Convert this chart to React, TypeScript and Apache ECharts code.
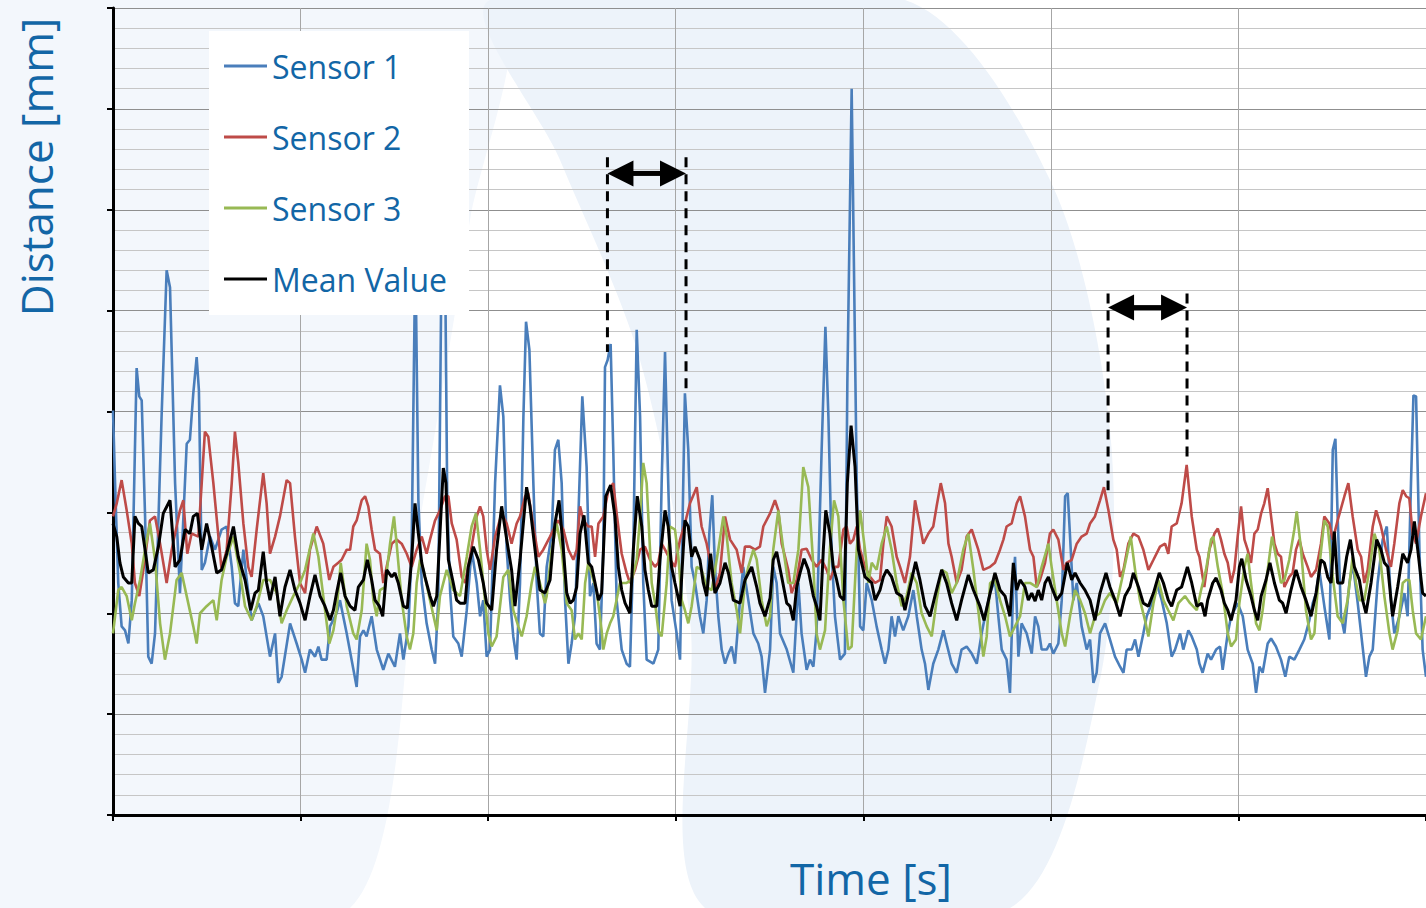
import React, { useEffect, useRef } from "react";
import * as echarts from "echarts";

// Time [s], Distance [mm] pairs
const sensor1: [number, number][] = [
  [0,4.01],[0.011,3.29],[0.028,2.30],[0.046,1.87],[0.064,1.83],[0.082,1.70],[0.100,2.13],[0.126,4.43],[0.140,4.15],[0.153,4.11],[0.171,2.96],[0.188,1.57],[0.206,1.50],[0.224,1.80],[0.259,3.95],[0.286,5.40],[0.304,5.23],[0.331,3.29],[0.357,2.20],[0.393,3.68],[0.410,3.72],[0.428,4.18],[0.446,4.54],[0.458,4.21],[0.473,2.43],[0.490,2.50],[0.517,2.76],[0.544,2.63],[0.579,2.83],[0.606,2.86],[0.633,2.46],[0.650,2.10],[0.668,2.07],[0.695,2.63],[0.713,2.33],[0.739,1.93],[0.775,2.10],[0.801,1.97],[0.837,1.57],[0.864,1.80],[0.881,1.31],[0.899,1.37],[0.944,1.90],[0.979,1.70],[1.006,1.54],[1.024,1.41],[1.050,1.64],[1.077,1.57],[1.095,1.67],[1.112,1.54],[1.139,1.54],[1.157,1.87],[1.192,2.00],[1.210,2.13],[1.246,1.80],[1.272,1.54],[1.299,1.27],[1.317,1.77],[1.335,1.83],[1.352,1.77],[1.379,1.97],[1.406,1.64],[1.441,1.44],[1.468,1.60],[1.503,1.47],[1.530,1.80],[1.548,1.54],[1.575,1.87],[1.592,2.63],[1.612,5.60],[1.628,3.12],[1.646,2.30],[1.672,1.90],[1.699,1.64],[1.717,1.50],[1.734,2.13],[1.752,5.60],[1.770,5.60],[1.782,3.12],[1.797,2.23],[1.814,1.77],[1.841,1.70],[1.859,1.57],[1.886,2.03],[1.912,2.63],[1.939,2.30],[1.957,1.97],[1.974,2.13],[1.992,1.57],[2.010,1.64],[2.037,3.29],[2.063,4.26],[2.081,3.95],[2.099,2.63],[2.117,2.13],[2.134,1.77],[2.152,1.54],[2.170,2.30],[2.188,3.95],[2.202,4.89],[2.220,4.61],[2.241,3.29],[2.259,2.30],[2.276,1.80],[2.294,1.77],[2.312,2.46],[2.339,2.79],[2.356,3.62],[2.374,3.72],[2.392,3.29],[2.410,2.13],[2.428,1.50],[2.445,1.70],[2.463,1.97],[2.481,2.96],[2.502,4.15],[2.525,3.45],[2.543,2.17],[2.561,2.30],[2.578,1.70],[2.596,1.64],[2.614,2.63],[2.623,4.44],[2.637,4.51],[2.653,4.67],[2.667,3.62],[2.685,2.13],[2.712,1.64],[2.738,1.50],[2.756,1.47],[2.774,2.63],[2.792,4.81],[2.810,3.95],[2.827,2.30],[2.845,1.54],[2.881,1.50],[2.907,1.64],[2.925,3.29],[2.943,4.59],[2.960,3.29],[2.978,2.13],[3.005,1.80],[3.023,1.54],[3.037,2.96],[3.049,4.18],[3.067,3.62],[3.085,2.46],[3.103,2.30],[3.129,1.97],[3.147,1.80],[3.165,2.13],[3.179,2.79],[3.195,3.17],[3.209,2.46],[3.227,1.97],[3.245,1.64],[3.263,1.50],[3.281,1.60],[3.298,1.67],[3.316,1.50],[3.343,2.13],[3.360,2.46],[3.387,2.13],[3.414,1.80],[3.440,1.70],[3.458,1.57],[3.476,1.21],[3.503,1.64],[3.520,2.46],[3.538,2.30],[3.556,1.80],[3.592,1.64],[3.627,1.41],[3.654,2.30],[3.671,1.80],[3.698,1.44],[3.716,1.54],[3.734,1.47],[3.751,1.83],[3.778,3.62],[3.798,4.84],[3.814,3.95],[3.831,2.63],[3.849,1.97],[3.876,1.54],[3.902,1.60],[3.915,4.28],[3.938,7.20],[3.965,3.30],[3.983,1.87],[4.000,1.83],[4.018,2.30],[4.045,2.13],[4.071,1.87],[4.098,1.64],[4.116,1.50],[4.134,1.64],[4.151,1.97],[4.169,1.77],[4.187,1.97],[4.213,1.83],[4.240,1.97],[4.267,2.23],[4.285,1.97],[4.311,1.64],[4.329,1.50],[4.347,1.24],[4.373,1.50],[4.400,1.64],[4.427,1.83],[4.444,1.70],[4.471,1.50],[4.498,1.41],[4.524,1.64],[4.551,1.67],[4.578,1.60],[4.605,1.50],[4.631,1.80],[4.649,1.97],[4.676,2.20],[4.702,2.33],[4.720,1.97],[4.738,1.64],[4.764,1.54],[4.782,1.21],[4.800,2.30],[4.809,2.56],[4.827,1.57],[4.844,1.90],[4.871,1.80],[4.898,1.60],[4.916,1.97],[4.933,1.87],[4.951,1.64],[4.978,1.64],[4.995,1.70],[5.013,1.60],[5.040,1.70],[5.058,2.13],[5.076,3.16],[5.090,3.19],[5.106,2.63],[5.120,2.13],[5.138,2.30],[5.164,1.87],[5.191,1.64],[5.209,1.74],[5.227,1.31],[5.244,1.41],[5.262,1.80],[5.289,1.90],[5.315,1.74],[5.342,1.57],[5.369,1.47],[5.387,1.41],[5.404,1.64],[5.431,1.64],[5.449,1.74],[5.467,1.57],[5.493,1.80],[5.511,1.97],[5.538,2.10],[5.564,2.30],[5.591,2.13],[5.618,1.90],[5.644,1.57],[5.662,1.64],[5.689,1.80],[5.706,1.64],[5.733,1.83],[5.751,1.77],[5.778,1.64],[5.792,1.50],[5.809,1.41],[5.836,1.60],[5.854,1.54],[5.881,1.64],[5.902,1.67],[5.916,1.44],[5.943,1.80],[5.961,1.97],[5.978,2.03],[5.996,2.10],[6.023,1.97],[6.049,1.64],[6.076,1.50],[6.094,1.21],[6.112,1.47],[6.129,1.41],[6.156,1.70],[6.174,1.75],[6.200,1.67],[6.227,1.54],[6.250,1.37],[6.271,1.57],[6.298,1.54],[6.325,1.64],[6.351,1.74],[6.378,1.93],[6.396,2.10],[6.414,2.20],[6.431,2.43],[6.458,2.07],[6.485,1.74],[6.503,3.62],[6.517,3.73],[6.529,2.96],[6.547,1.97],[6.565,1.80],[6.592,2.30],[6.609,2.50],[6.636,2.10],[6.654,1.80],[6.680,1.37],[6.698,1.57],[6.716,1.64],[6.742,2.30],[6.769,2.73],[6.791,2.86],[6.813,2.13],[6.831,1.80],[6.858,1.97],[6.885,2.20],[6.902,1.97],[6.920,3.29],[6.933,4.16],[6.947,4.15],[6.965,2.63],[6.982,1.64],[7.000,1.37]
];

const sensor2: [number, number][] = [
  [0,2.96],[0.020,3.09],[0.046,3.32],[0.073,3.02],[0.100,2.69],[0.117,2.30],[0.140,2.17],[0.162,2.43],[0.197,2.92],[0.224,2.96],[0.251,2.69],[0.286,2.30],[0.313,2.63],[0.357,3.02],[0.375,3.12],[0.396,2.59],[0.419,2.79],[0.455,2.76],[0.473,3.29],[0.490,3.80],[0.508,3.75],[0.535,3.29],[0.562,2.76],[0.579,2.43],[0.606,2.63],[0.633,3.29],[0.650,3.80],[0.668,3.49],[0.695,2.89],[0.721,2.46],[0.739,2.36],[0.766,2.83],[0.801,3.39],[0.819,3.09],[0.837,2.59],[0.864,2.76],[0.890,2.96],[0.926,3.32],[0.944,3.29],[0.970,2.76],[0.997,2.30],[1.024,2.20],[1.050,2.63],[1.086,2.86],[1.121,2.69],[1.153,2.33],[1.175,2.46],[1.201,2.50],[1.219,2.53],[1.246,2.63],[1.264,2.63],[1.281,2.86],[1.299,2.92],[1.326,3.12],[1.344,3.16],[1.361,3.06],[1.379,2.83],[1.397,2.63],[1.423,2.59],[1.441,2.30],[1.459,2.46],[1.486,2.69],[1.512,2.73],[1.539,2.69],[1.566,2.59],[1.592,2.46],[1.619,2.63],[1.646,2.76],[1.672,2.59],[1.690,2.73],[1.717,2.92],[1.743,3.02],[1.770,3.16],[1.788,3.16],[1.806,2.89],[1.832,2.73],[1.859,2.36],[1.877,2.30],[1.903,2.56],[1.939,2.96],[1.957,3.06],[1.974,2.96],[1.992,2.63],[2.010,2.43],[2.037,2.76],[2.072,2.99],[2.099,2.89],[2.125,2.69],[2.152,2.89],[2.170,2.96],[2.197,3.16],[2.214,3.19],[2.241,2.86],[2.268,2.56],[2.294,2.63],[2.330,2.76],[2.348,2.83],[2.374,2.92],[2.401,2.83],[2.428,2.63],[2.454,2.53],[2.472,2.63],[2.490,3.06],[2.508,2.92],[2.534,2.86],[2.552,2.86],[2.570,2.56],[2.588,2.89],[2.614,2.96],[2.641,3.22],[2.667,3.29],[2.685,2.99],[2.712,2.59],[2.738,2.40],[2.756,2.30],[2.783,2.43],[2.810,2.63],[2.836,2.66],[2.863,2.53],[2.890,2.46],[2.907,2.50],[2.925,2.69],[2.943,2.63],[2.970,2.53],[2.996,2.46],[3.023,2.73],[3.049,2.89],[3.076,3.09],[3.112,3.25],[3.138,2.86],[3.165,2.69],[3.192,2.43],[3.209,2.23],[3.236,2.40],[3.263,2.96],[3.290,2.73],[3.325,2.63],[3.352,2.40],[3.369,2.66],[3.396,2.66],[3.423,2.63],[3.449,2.66],[3.467,2.86],[3.503,2.99],[3.529,3.12],[3.547,3.02],[3.565,2.69],[3.583,2.56],[3.600,2.43],[3.618,2.20],[3.645,2.33],[3.671,2.63],[3.698,2.64],[3.725,2.53],[3.751,2.46],[3.778,2.53],[3.805,2.43],[3.822,2.33],[3.849,2.46],[3.867,2.46],[3.894,2.83],[3.911,2.86],[3.929,2.69],[3.947,2.73],[3.965,2.86],[3.983,2.63],[4.009,2.46],[4.036,2.36],[4.063,2.30],[4.089,2.33],[4.107,2.69],[4.125,2.96],[4.151,2.86],[4.178,2.56],[4.196,2.46],[4.222,2.30],[4.249,2.56],[4.276,3.12],[4.293,2.96],[4.320,2.69],[4.347,2.79],[4.373,2.86],[4.391,3.06],[4.413,3.29],[4.436,3.09],[4.454,2.69],[4.471,2.56],[4.498,2.30],[4.524,2.43],[4.551,2.76],[4.578,2.83],[4.613,2.63],[4.640,2.43],[4.676,2.46],[4.702,2.50],[4.729,2.63],[4.747,2.73],[4.764,2.86],[4.791,2.89],[4.818,3.09],[4.836,3.16],[4.862,2.96],[4.889,2.63],[4.907,2.56],[4.925,2.26],[4.942,2.33],[4.969,2.50],[4.995,2.79],[5.013,2.83],[5.040,2.73],[5.067,2.43],[5.084,2.50],[5.111,2.53],[5.138,2.69],[5.164,2.76],[5.191,2.79],[5.209,2.89],[5.235,2.96],[5.262,3.12],[5.283,3.25],[5.307,3.02],[5.333,2.73],[5.351,2.63],[5.369,2.36],[5.387,2.43],[5.413,2.69],[5.440,2.79],[5.467,2.76],[5.493,2.63],[5.520,2.43],[5.547,2.53],[5.582,2.66],[5.609,2.69],[5.626,2.59],[5.644,2.86],[5.671,2.89],[5.697,3.09],[5.724,3.47],[5.751,2.96],[5.778,2.63],[5.792,2.56],[5.818,2.26],[5.845,2.63],[5.872,2.79],[5.890,2.84],[5.907,2.73],[5.925,2.59],[5.943,2.50],[5.961,2.30],[5.978,2.43],[5.996,2.76],[6.014,3.06],[6.032,2.73],[6.049,2.63],[6.067,2.50],[6.085,2.79],[6.103,2.83],[6.121,2.99],[6.138,3.09],[6.156,3.24],[6.174,2.96],[6.192,2.69],[6.209,2.59],[6.227,2.56],[6.245,2.26],[6.271,2.36],[6.289,2.40],[6.307,2.63],[6.325,2.73],[6.343,2.59],[6.369,2.46],[6.387,2.36],[6.414,2.43],[6.440,2.69],[6.458,2.96],[6.485,2.89],[6.503,2.73],[6.529,2.92],[6.565,3.16],[6.586,3.29],[6.609,2.96],[6.636,2.63],[6.654,2.56],[6.671,2.30],[6.689,2.43],[6.716,2.86],[6.734,3.02],[6.760,2.86],[6.787,2.63],[6.813,2.46],[6.831,2.69],[6.858,3.09],[6.876,3.22],[6.894,3.16],[6.911,3.14],[6.929,2.79],[6.947,2.69],[6.973,2.96],[7.000,3.19]
];

const sensor3: [number, number][] = [
  [0,1.80],[0.028,2.23],[0.046,2.26],[0.073,2.17],[0.100,1.93],[0.117,2.10],[0.144,2.33],[0.171,2.63],[0.197,2.89],[0.224,2.53],[0.251,1.90],[0.277,1.54],[0.304,1.80],[0.339,2.33],[0.366,2.40],[0.393,2.17],[0.428,1.87],[0.446,1.70],[0.464,2.00],[0.499,2.07],[0.535,2.13],[0.553,1.93],[0.579,2.33],[0.606,2.56],[0.642,2.76],[0.677,2.40],[0.704,2.07],[0.739,1.93],[0.766,2.07],[0.801,2.33],[0.837,2.33],[0.873,2.20],[0.899,1.90],[0.926,2.03],[0.961,2.17],[0.997,2.30],[1.024,2.43],[1.068,2.79],[1.095,2.56],[1.121,2.17],[1.153,1.70],[1.175,1.83],[1.192,2.03],[1.214,2.50],[1.246,2.07],[1.281,1.80],[1.299,1.74],[1.326,2.03],[1.352,2.69],[1.370,2.53],[1.388,2.13],[1.406,1.97],[1.423,2.23],[1.450,2.26],[1.477,2.69],[1.498,2.96],[1.512,2.69],[1.539,2.13],[1.566,1.77],[1.583,1.64],[1.601,1.80],[1.619,2.30],[1.637,2.53],[1.655,2.43],[1.690,2.13],[1.726,1.83],[1.743,2.17],[1.779,2.43],[1.814,2.23],[1.850,2.17],[1.886,2.56],[1.912,2.86],[1.935,2.99],[1.957,2.63],[1.983,2.13],[2.001,1.80],[2.019,1.67],[2.045,1.77],[2.081,2.36],[2.108,2.43],[2.134,2.03],[2.161,1.87],[2.179,1.77],[2.205,1.97],[2.232,2.30],[2.250,2.46],[2.276,2.30],[2.303,2.10],[2.312,2.17],[2.339,2.63],[2.365,2.89],[2.392,2.63],[2.419,2.10],[2.445,2.03],[2.463,1.74],[2.481,1.80],[2.499,1.74],[2.517,2.30],[2.534,2.50],[2.561,2.33],[2.578,2.23],[2.605,1.83],[2.614,1.64],[2.632,1.80],[2.650,1.90],[2.667,1.97],[2.703,2.30],[2.738,2.30],[2.765,2.33],[2.792,2.53],[2.810,2.96],[2.827,3.49],[2.845,3.29],[2.872,2.30],[2.890,2.10],[2.907,1.83],[2.925,1.77],[2.952,2.30],[2.970,2.86],[2.996,2.83],[3.014,2.56],[3.032,2.13],[3.049,2.03],[3.067,1.90],[3.085,2.07],[3.112,2.46],[3.138,2.43],[3.165,2.26],[3.192,2.23],[3.227,2.63],[3.254,2.96],[3.272,2.76],[3.298,2.30],[3.325,2.03],[3.343,1.80],[3.369,2.30],[3.387,2.46],[3.414,2.63],[3.432,2.53],[3.458,2.13],[3.485,1.87],[3.503,1.97],[3.520,2.63],[3.547,3.02],[3.574,2.63],[3.600,2.30],[3.627,2.30],[3.654,2.63],[3.680,3.45],[3.707,3.25],[3.734,2.46],[3.751,1.80],[3.769,1.64],[3.796,1.83],[3.822,2.63],[3.844,3.12],[3.867,2.96],[3.894,2.13],[3.920,1.64],[3.938,1.67],[3.965,2.63],[3.983,3.02],[4.009,2.63],[4.027,2.30],[4.045,2.50],[4.071,2.43],[4.098,2.69],[4.125,2.86],[4.151,2.63],[4.178,2.30],[4.205,2.07],[4.231,2.17],[4.258,2.40],[4.285,2.30],[4.311,2.00],[4.338,1.87],[4.365,1.77],[4.391,2.13],[4.418,2.43],[4.444,2.40],[4.471,2.20],[4.498,2.30],[4.533,2.63],[4.560,2.79],[4.587,2.43],[4.613,2.03],[4.640,1.57],[4.658,1.77],[4.676,2.30],[4.702,2.33],[4.729,2.13],[4.756,1.97],[4.782,1.77],[4.809,1.87],[4.836,1.97],[4.862,2.30],[4.889,2.30],[4.925,2.26],[4.951,2.46],[4.987,2.69],[5.004,2.46],[5.031,2.13],[5.058,1.80],[5.076,1.67],[5.102,1.97],[5.129,2.23],[5.156,2.13],[5.182,2.00],[5.209,1.80],[5.235,1.97],[5.262,2.00],[5.289,2.13],[5.315,2.20],[5.351,2.10],[5.378,2.33],[5.404,2.56],[5.426,2.76],[5.449,2.43],[5.475,2.13],[5.502,1.93],[5.520,1.77],[5.547,2.10],[5.573,2.33],[5.600,2.13],[5.626,2.03],[5.653,1.93],[5.680,2.10],[5.715,2.17],[5.742,2.10],[5.778,2.03],[5.801,2.23],[5.827,2.43],[5.854,2.73],[5.866,2.76],[5.890,2.46],[5.916,2.20],[5.943,1.80],[5.961,1.67],[5.987,1.74],[6.005,2.10],[6.032,2.46],[6.049,2.59],[6.067,2.30],[6.094,1.90],[6.112,1.83],[6.129,2.03],[6.156,2.43],[6.179,2.76],[6.200,2.56],[6.227,2.30],[6.245,2.33],[6.271,2.53],[6.298,2.83],[6.311,3.01],[6.334,2.63],[6.360,2.03],[6.387,1.74],[6.405,1.80],[6.431,2.46],[6.458,2.92],[6.476,2.86],[6.503,2.36],[6.529,1.97],[6.556,1.90],[6.582,2.13],[6.609,2.56],[6.627,2.30],[6.645,2.13],[6.671,2.13],[6.698,2.43],[6.725,2.79],[6.751,2.63],[6.778,2.17],[6.805,1.80],[6.822,1.64],[6.849,1.83],[6.876,2.30],[6.894,2.33],[6.911,2.33],[6.929,2.03],[6.947,1.80],[6.973,1.74],[7.000,1.97]
];

const meanValue: [number, number][] = [
  [0,2.89],[0.020,2.76],[0.037,2.50],[0.055,2.36],[0.082,2.30],[0.100,2.30],[0.117,2.96],[0.135,2.89],[0.153,2.86],[0.171,2.63],[0.188,2.40],[0.215,2.43],[0.242,2.66],[0.268,2.99],[0.304,3.12],[0.331,2.46],[0.357,2.53],[0.384,2.83],[0.410,2.79],[0.428,2.96],[0.450,2.99],[0.473,2.63],[0.499,2.89],[0.526,2.66],[0.553,2.40],[0.579,2.43],[0.606,2.59],[0.642,2.86],[0.668,2.56],[0.704,2.33],[0.734,2.03],[0.757,2.20],[0.775,2.23],[0.801,2.61],[0.819,2.30],[0.837,2.13],[0.864,2.36],[0.890,1.97],[0.917,2.26],[0.944,2.43],[0.970,2.23],[0.997,2.10],[1.024,1.93],[1.050,2.17],[1.077,2.38],[1.104,2.17],[1.130,2.07],[1.157,1.93],[1.175,2.03],[1.192,2.20],[1.214,2.40],[1.237,2.17],[1.264,2.07],[1.290,2.03],[1.308,2.26],[1.335,2.33],[1.356,2.53],[1.379,2.33],[1.397,2.13],[1.420,2.07],[1.438,1.97],[1.459,2.43],[1.486,2.36],[1.503,2.40],[1.521,2.30],[1.548,2.07],[1.569,2.05],[1.592,2.53],[1.610,3.09],[1.628,2.79],[1.646,2.50],[1.663,2.36],[1.690,2.17],[1.708,2.07],[1.726,2.17],[1.743,2.79],[1.761,3.44],[1.775,3.29],[1.788,2.53],[1.814,2.30],[1.832,2.13],[1.850,2.10],[1.877,2.10],[1.894,2.46],[1.921,2.66],[1.948,2.53],[1.974,2.30],[1.992,2.10],[2.019,2.03],[2.045,2.63],[2.072,3.06],[2.099,2.73],[2.125,2.43],[2.143,2.07],[2.170,2.53],[2.205,3.25],[2.223,3.06],[2.250,2.63],[2.276,2.23],[2.303,2.20],[2.330,2.33],[2.356,2.89],[2.378,3.12],[2.401,2.63],[2.419,2.20],[2.437,2.10],[2.454,2.13],[2.472,2.26],[2.490,2.79],[2.511,2.97],[2.534,2.50],[2.552,2.46],[2.570,2.30],[2.588,2.13],[2.605,2.20],[2.627,3.16],[2.653,3.27],[2.676,2.96],[2.694,2.46],[2.712,2.23],[2.730,2.10],[2.756,2.00],[2.774,2.63],[2.795,3.16],[2.819,2.86],[2.836,2.43],[2.854,2.23],[2.872,2.07],[2.899,2.07],[2.916,2.53],[2.943,3.02],[2.960,2.86],[2.978,2.46],[2.996,2.30],[3.023,2.07],[3.049,2.92],[3.067,2.86],[3.085,2.56],[3.103,2.66],[3.129,2.53],[3.147,2.30],[3.165,2.17],[3.186,2.59],[3.209,2.20],[3.236,2.30],[3.263,2.50],[3.281,2.40],[3.307,2.13],[3.343,2.10],[3.369,2.33],[3.405,2.46],[3.432,2.26],[3.449,2.10],[3.476,1.97],[3.503,2.15],[3.520,2.53],[3.538,2.61],[3.565,2.36],[3.592,2.10],[3.609,2.07],[3.627,1.93],[3.645,2.26],[3.663,2.40],[3.684,2.54],[3.707,2.43],[3.734,2.17],[3.751,2.07],[3.769,1.93],[3.787,2.63],[3.800,3.02],[3.822,2.79],[3.840,2.46],[3.858,2.33],[3.876,2.17],[3.897,2.13],[3.915,3.29],[3.935,3.86],[3.956,3.45],[3.974,2.63],[3.991,2.50],[4.009,2.36],[4.027,2.33],[4.045,2.30],[4.063,2.13],[4.089,2.23],[4.107,2.36],[4.125,2.43],[4.151,2.36],[4.178,2.20],[4.205,2.17],[4.222,2.03],[4.249,2.26],[4.279,2.51],[4.302,2.33],[4.329,2.07],[4.356,1.97],[4.382,2.17],[4.418,2.43],[4.444,2.30],[4.471,2.10],[4.498,1.93],[4.524,2.13],[4.560,2.38],[4.587,2.23],[4.622,2.07],[4.644,1.93],[4.676,2.20],[4.702,2.40],[4.729,2.23],[4.756,2.17],[4.782,1.97],[4.800,2.50],[4.818,2.23],[4.836,2.33],[4.862,2.26],[4.880,2.13],[4.898,2.20],[4.916,2.12],[4.933,2.23],[4.951,2.13],[4.969,2.30],[4.987,2.36],[5.004,2.26],[5.031,2.13],[5.058,2.20],[5.088,2.50],[5.111,2.33],[5.129,2.40],[5.156,2.30],[5.182,2.23],[5.209,2.13],[5.235,1.93],[5.262,2.20],[5.294,2.40],[5.315,2.26],[5.342,2.13],[5.369,1.97],[5.395,2.17],[5.422,2.26],[5.440,2.40],[5.467,2.26],[5.493,2.10],[5.520,2.07],[5.547,2.20],[5.578,2.40],[5.600,2.30],[5.626,2.13],[5.644,2.07],[5.671,2.23],[5.697,2.26],[5.728,2.46],[5.751,2.30],[5.778,2.07],[5.804,2.10],[5.822,1.97],[5.836,2.13],[5.863,2.30],[5.881,2.35],[5.907,2.23],[5.925,2.10],[5.943,2.03],[5.961,1.93],[5.987,2.13],[6.005,2.46],[6.018,2.54],[6.041,2.33],[6.067,2.17],[6.085,2.03],[6.103,1.93],[6.121,2.17],[6.147,2.33],[6.168,2.50],[6.192,2.30],[6.218,2.13],[6.236,2.10],[6.254,2.00],[6.280,2.23],[6.307,2.43],[6.334,2.26],[6.360,2.13],[6.387,1.97],[6.414,2.20],[6.440,2.53],[6.458,2.50],[6.476,2.36],[6.494,2.30],[6.511,2.81],[6.529,2.30],[6.556,2.30],[6.577,2.56],[6.597,2.73],[6.618,2.46],[6.645,2.33],[6.662,2.13],[6.680,2.00],[6.707,2.30],[6.737,2.73],[6.760,2.63],[6.778,2.50],[6.796,2.46],[6.822,1.97],[6.849,2.26],[6.876,2.59],[6.902,2.50],[6.920,2.63],[6.938,2.91],[6.956,2.63],[6.982,2.20],[7.000,2.17]
];

const seriesNames = ["Sensor 1", "Sensor 2", "Sensor 3", "Mean Value"];
const seriesColors = ["#4A7EBB", "#BE4B48", "#98B954", "#000000"];

// period annotations (time span, arrow level and dashed-line extents)
const spanStart = [2.636, 5.305];
const spanEnd = [3.055, 5.726];
const spanTop = [6.52, 5.17];
const arrowLevel = [6.36, 5.03];
const startBottom = [4.59, 3.22];
const endBottom = [4.16, 3.5];

const TEXT_BLUE = "#1266A6";
const FONT = "'Open Sans', 'Noto Sans', sans-serif";

export default function App() {
  const ref = useRef<HTMLDivElement>(null);

  useEffect(() => {
    if (!ref.current) return;
    const chart = echarts.init(ref.current, undefined, { renderer: "svg" });

    const annotationData = spanStart.map((s, i) => [
      s, spanEnd[i], spanTop[i], arrowLevel[i], startBottom[i], endBottom[i],
    ]);

    const lineSeries = [sensor1, sensor2, sensor3, meanValue].map((d, i) => ({
      name: seriesNames[i],
      type: "line",
      data: d,
      showSymbol: false,
      symbol: "none",
      color: seriesColors[i],
      lineStyle: { color: seriesColors[i], width: i === 3 ? 3 : 2.6 },
      z: 2 + i * 0.1,
      silent: true,
    }));

    chart.setOption({
      animation: false,
      backgroundColor: "#ffffff",
      grid: { left: 113, right: 0, top: 8, bottom: 93, containLabel: false },
      xAxis: {
        type: "value",
        min: 0,
        max: 7,
        interval: 1,
        axisLine: { show: true, onZero: false, lineStyle: { color: "#000", width: 3 } },
        axisTick: { show: true, inside: false, length: 6, lineStyle: { color: "#000", width: 2 } },
        axisLabel: { show: false },
        splitLine: { show: true, lineStyle: { color: "#a6a6a6", width: 1 } },
      },
      yAxis: {
        type: "value",
        min: 0,
        max: 8,
        interval: 1,
        axisLine: { show: true, onZero: false, lineStyle: { color: "#000", width: 3 } },
        axisTick: { show: true, inside: false, length: 6, lineStyle: { color: "#000", width: 2 } },
        axisLabel: { show: false },
        splitLine: { show: true, lineStyle: { color: "#8f8f8f", width: 1 } },
        minorTick: { show: false, splitNumber: 5 },
        minorSplitLine: { show: true, lineStyle: { color: "#c6c6c6", width: 1 } },
      },
      legend: {
        show: true,
        orient: "vertical",
        left: 224,
        top: 50,
        padding: 0,
        itemWidth: 43,
        itemHeight: 3,
        itemGap: 39,
        icon: "rect",
        selectedMode: false,
        z: 60,
        data: seriesNames,
        textStyle: { fontSize: 32, fontFamily: FONT, color: TEXT_BLUE },
      },
      graphic: [
        {
          type: "polygon", z: -100, silent: true,
          shape: { points: [[0, 0], [500, 0], [470, 220], [420, 520], [350, 908], [0, 908]], smooth: 0.25 },
          style: { fill: "#f3f7fc" },
        },
        {
          type: "polygon", z: -100, silent: true,
          shape: {
            points: [[490, 0], [905, 0], [1050, 180], [1110, 430], [1100, 680], [1010, 908], [705, 908], [690, 620], [640, 360], [560, 160]],
            smooth: 0.3,
          },
          style: { fill: "#edf3fa" },
        },
        { type: "rect", z: 50, silent: true, shape: { x: 209, y: 31, width: 260, height: 284 }, style: { fill: "#ffffff" } },
        {
          type: "text", z: 60, x: 871, y: 878, silent: true,
          style: { text: "Time [s]", fontSize: 44, fontFamily: FONT, fill: TEXT_BLUE, textAlign: "center", textVerticalAlign: "middle", align: "center", verticalAlign: "middle" },
        },
        {
          type: "text", z: 60, x: 36, y: 167, rotation: Math.PI / 2, silent: true,
          style: { text: "Distance [mm]", fontSize: 44, fontFamily: FONT, fill: TEXT_BLUE, textAlign: "center", textVerticalAlign: "middle", align: "center", verticalAlign: "middle" },
        },
      ],
      series: [
        ...lineSeries,
        {
          name: "annotations",
          type: "custom",
          silent: true,
          z: 10,
          clip: false,
          data: annotationData,
          encode: { x: [0, 1], y: [2, 3, 4, 5] },
          renderItem: (params: any, api: any) => {
            const t0 = api.value(0), t1 = api.value(1);
            const top = api.value(2), lvl = api.value(3);
            const b0 = api.value(4), b1 = api.value(5);
            const p0t = api.coord([t0, top]), p0b = api.coord([t0, b0]);
            const p1t = api.coord([t1, top]), p1b = api.coord([t1, b1]);
            const a0 = api.coord([t0, lvl]), a1 = api.coord([t1, lvl]);
            const head = 26, half = 13;
            const dash = { stroke: "#000", lineWidth: 3, lineDash: [10, 7], fill: null };
            return {
              type: "group",
              children: [
                { type: "line", shape: { x1: p0t[0], y1: p0t[1], x2: p0b[0], y2: p0b[1] }, style: dash },
                { type: "line", shape: { x1: p1t[0], y1: p1t[1], x2: p1b[0], y2: p1b[1] }, style: dash },
                { type: "line", shape: { x1: a0[0] + head - 2, y1: a0[1], x2: a1[0] - head + 2, y2: a1[1] }, style: { stroke: "#000", lineWidth: 5 } },
                { type: "polygon", shape: { points: [[a0[0], a0[1]], [a0[0] + head, a0[1] - half], [a0[0] + head, a0[1] + half]] }, style: { fill: "#000" } },
                { type: "polygon", shape: { points: [[a1[0], a1[1]], [a1[0] - head, a1[1] - half], [a1[0] - head, a1[1] + half]] }, style: { fill: "#000" } },
              ],
            };
          },
        },
      ],
    });

    return () => chart.dispose();
  }, []);

  return (
    <div
      ref={ref}
      style={{ position: "fixed", left: 0, top: 0, width: 1426, height: 908 }}
    />
  );
}
